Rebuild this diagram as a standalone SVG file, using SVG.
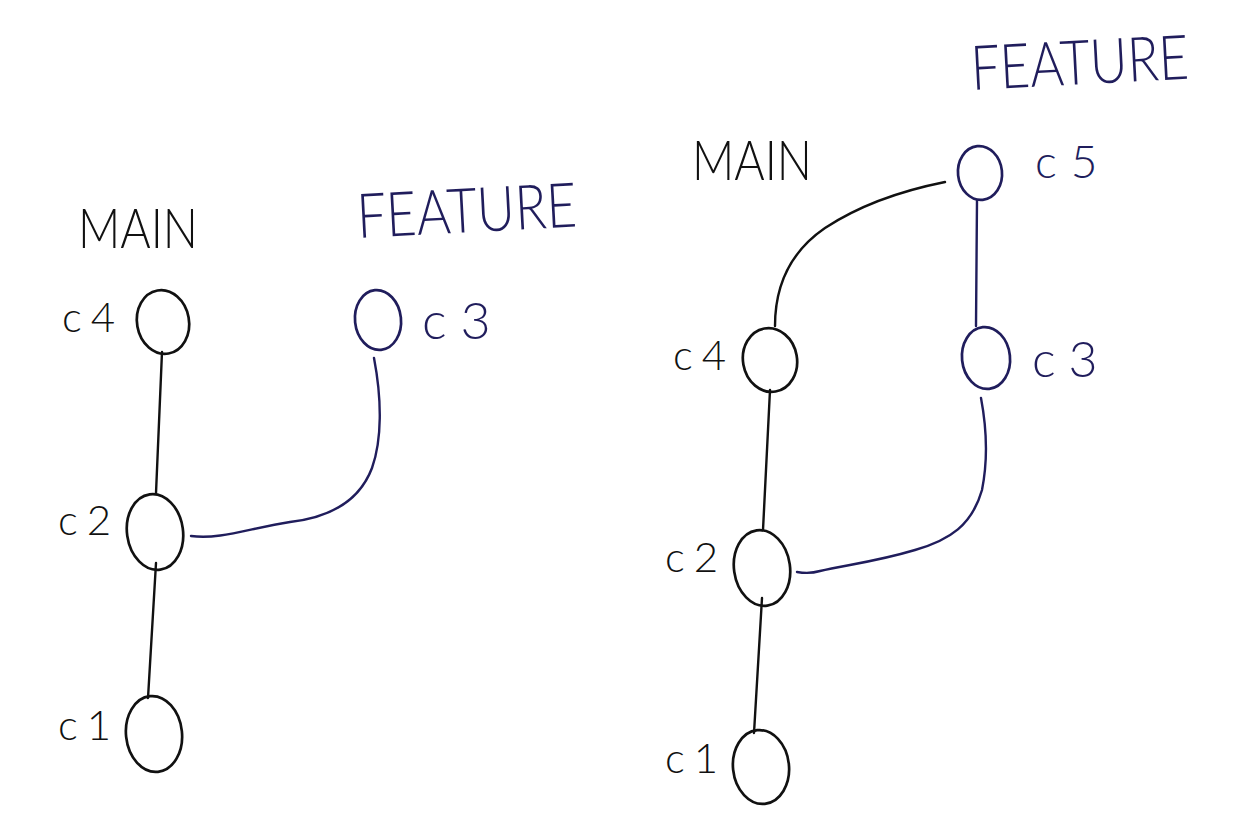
<svg xmlns="http://www.w3.org/2000/svg" width="1252" height="840" viewBox="0 0 1252 840">
<style>
.bg{fill:#ffffff}
.nm{fill:none;stroke:#111111;stroke-width:2.7}
.nf{fill:none;stroke:#201d5c;stroke-width:2.7}
.em{fill:none;stroke:#111111;stroke-width:2.4;stroke-linecap:round}
.ef{fill:none;stroke:#201d5c;stroke-width:2.4;stroke-linecap:round}
.tm{font-family:Lato,"Liberation Sans",Arial,sans-serif;font-weight:300;fill:#111111}
.tf{font-family:Lato,"Liberation Sans",Arial,sans-serif;font-weight:300;fill:#201d5c}
.lbl{font-size:42px;letter-spacing:9px}
.br{font-size:56px}
.brf{font-size:62px}
</style>
<rect class="bg" x="0" y="0" width="1252" height="840"/>

<g id="connectors">
  <path class="em" d="M162,352 L156,493"/>
  <path class="em" d="M156,563 L148,698"/>
  <path class="ef" d="M374,358 C382,400 382,440 372,468 C358,505 325,518 290,522 C250,528 220,540 191,536"/>
  <path class="em" d="M945,182 C905,190 860,205 825,228 C790,252 775,285 775,326"/>
  <path class="ef" d="M977,200 L976,326"/>
  <path class="em" d="M770,390 L763,530"/>
  <path class="em" d="M762,598 L754,733"/>
  <path class="ef" d="M981,398 C987,430 988,460 982,490 C972,525 950,540 915,550 C875,562 845,565 820,571 C810,574 803,573 797,572"/>
</g>

<g id="branch-labels">
  <text class="tm br" x="78" y="248" textLength="120" lengthAdjust="spacingAndGlyphs">MAIN</text>
  <text class="tf brf" x="358" y="238" textLength="220" lengthAdjust="spacingAndGlyphs" transform="rotate(-3 358 238)">FEATURE</text>
  <text class="tm br" x="692" y="180" textLength="120" lengthAdjust="spacingAndGlyphs">MAIN</text>
  <text class="tf brf" x="972" y="90" textLength="218" lengthAdjust="spacingAndGlyphs" transform="rotate(-3 972 90)">FEATURE</text>
</g>

<g id="left-c4">
  <ellipse class="nm" cx="163" cy="322" rx="26" ry="32" transform="rotate(-10 163 322)"/>
  <text class="tm lbl" x="62" y="332">c4</text>
</g>
<g id="left-c3">
  <ellipse class="nf" cx="378" cy="320" rx="23" ry="30" transform="rotate(-6 378 320)"/>
  <text class="tf lbl" x="422" y="339" style="font-size:52px;letter-spacing:14px">c3</text>
</g>
<g id="left-c2">
  <ellipse class="nm" cx="155" cy="532" rx="28" ry="38" transform="rotate(-8 155 532)"/>
  <text class="tm lbl" x="58" y="535">c2</text>
</g>
<g id="left-c1">
  <ellipse class="nm" cx="154" cy="734" rx="28" ry="38" transform="rotate(-6 154 734)"/>
  <text class="tm lbl" x="58" y="740">c1</text>
</g>

<g id="right-c5">
  <ellipse class="nf" cx="980" cy="173" rx="22" ry="27" transform="rotate(-6 980 173)"/>
  <text class="tf lbl" x="1035" y="178" style="font-size:46px;letter-spacing:14px">c5</text>
</g>
<g id="right-c4">
  <ellipse class="nm" cx="770" cy="360" rx="27" ry="32" transform="rotate(-10 770 360)"/>
  <text class="tm lbl" x="673" y="370">c4</text>
</g>
<g id="right-c3">
  <ellipse class="nf" cx="986" cy="358" rx="24" ry="31" transform="rotate(-6 986 358)"/>
  <text class="tf lbl" x="1032" y="377" style="font-size:50px;letter-spacing:13px">c3</text>
</g>
<g id="right-c2">
  <ellipse class="nm" cx="762" cy="568" rx="28" ry="38" transform="rotate(-8 762 568)"/>
  <text class="tm lbl" x="665" y="572">c2</text>
</g>
<g id="right-c1">
  <ellipse class="nm" cx="761" cy="767" rx="28" ry="37" transform="rotate(-6 761 767)"/>
  <text class="tm lbl" x="665" y="773">c1</text>
</g>
</svg>
